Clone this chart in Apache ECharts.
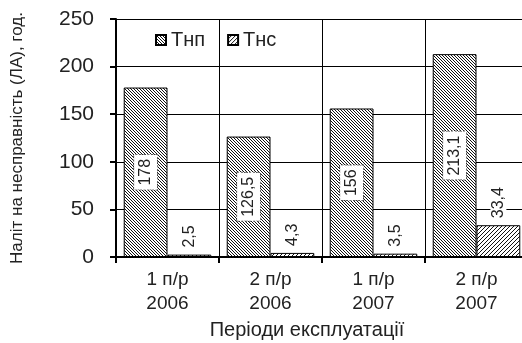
<!DOCTYPE html>
<html>
<head>
<meta charset="utf-8">
<script src="https://cdn.jsdelivr.net/npm/echarts@6/dist/echarts.min.js"></script>
<style>
  html, body { margin: 0; padding: 0; background: #fff; }
  #chart { width: 522px; height: 343px; }
</style>
</head>
<body>
<div id="chart"></div>
<script>
// Periods of operation (half-years) and downtime values, hours
const categories = ['1 п/р\n2006', '2 п/р\n2006', '1 п/р\n2007', '2 п/р\n2007'];
const seriesNames = ['Тнп', 'Тнс'];
const tnpValues = [178, 126.5, 156, 213.1];
const tncValues = [2.5, 4.3, 3.5, 33.4];
const yTicks = [0, 50, 100, 150, 200, 250];

// Diagonal hatch fill drawn on a small tile canvas
function hatch(step, dir, lineW) {
  const s = step * 4;
  const c = document.createElement('canvas');
  c.width = s; c.height = s;
  const g = c.getContext('2d');
  g.fillStyle = '#fff';
  g.fillRect(0, 0, s, s);
  g.strokeStyle = '#111';
  g.lineWidth = lineW;
  g.beginPath();
  for (let k = -s; k <= 2 * s; k += step) {
    if (dir > 0) { g.moveTo(k, 0); g.lineTo(k + s, s); }   // "\" lines
    else { g.moveTo(k, s); g.lineTo(k + s, 0); }           // "/" lines
  }
  g.stroke();
  return { image: c, repeat: 'repeat' };
}

const textFont = '"Liberation Sans", Arial, sans-serif';

function fmt(v) { return String(v).replace('.', ','); }

function barData(values) {
  return values.map(v => {
    if (v >= 50) {
      return {
        value: v,
        label: {
          position: 'inside', rotate: 90,
          align: 'center', verticalAlign: 'middle',
          backgroundColor: '#fff', borderColor: '#555', borderType: 'dotted',
          borderWidth: 1, padding: [4, 4, 3, 4]
        }
      };
    }
    return {
      value: v,
      label: {
        position: 'top', rotate: 90, distance: 5,
        align: 'left', verticalAlign: 'middle',
        backgroundColor: '#fff', padding: [0, 2]
      }
    };
  });
}

const chart = echarts.init(document.getElementById('chart'), null, { renderer: 'canvas' });

const labelStyle = {
  show: true,
  formatter: p => fmt(p.value),
  fontFamily: textFont,
  fontSize: 16,
  color: '#222'
};

chart.setOption({
  animation: false,
  backgroundColor: '#fff',
  textStyle: { fontFamily: textFont, color: '#222' },
  grid: { left: 116, top: 19, width: 412, height: 238, outerBoundsMode: 'none', containLabel: false },
  legend: {
    left: 150, top: 25,
    itemWidth: 10, itemHeight: 10, itemGap: 22,
    textStyle: { fontFamily: textFont, fontSize: 20, color: '#222', padding: [0, 0, 0, 0] },
    data: seriesNames.map(n => ({ name: n, icon: 'rect' }))
  },
  xAxis: {
    type: 'category',
    data: categories,
    boundaryGap: true,
    name: 'Періоди експлуатації',
    nameLocation: 'middle',
    nameGap: 61,
    nameTextStyle: { fontFamily: textFont, fontSize: 20, color: '#222', padding: [0, 30, 0, 0] },
    axisLine: { lineStyle: { color: '#000', width: 2 } },
    axisTick: { show: true, length: 6, alignWithLabel: false, lineStyle: { color: '#000', width: 2 } },
    axisLabel: { fontFamily: textFont, fontSize: 19, color: '#222', lineHeight: 24, margin: 11, interval: 0 },
    splitLine: { show: true, lineStyle: { color: '#000', width: 1 } }
  },
  yAxis: {
    type: 'value',
    min: yTicks[0],
    max: yTicks[yTicks.length - 1],
    interval: yTicks[1] - yTicks[0],
    name: 'Налiт на несправність (ЛА), год.',
    nameLocation: 'middle',
    nameGap: 90,
    nameTextStyle: { fontFamily: textFont, fontSize: 17, color: '#222' },
    axisLine: { show: true, lineStyle: { color: '#000', width: 2 } },
    axisTick: { show: true, length: 6, lineStyle: { color: '#000', width: 2 } },
    axisLabel: { fontFamily: textFont, fontSize: 21, color: '#222', margin: 22 },
    splitLine: { show: true, lineStyle: { color: '#000', width: 1 } }
  },
  series: [
    {
      name: seriesNames[0],
      type: 'bar',
      data: barData(tnpValues),
      barGap: '0%',
      barCategoryGap: '15%',
      itemStyle: { color: hatch(3, 1, 1), borderColor: '#000', borderWidth: 1 },
      label: labelStyle
    },
    {
      name: seriesNames[1],
      type: 'bar',
      data: barData(tncValues),
      barGap: '0%',
      barCategoryGap: '15%',
      itemStyle: { color: hatch(4, -1, 1), borderColor: '#000', borderWidth: 1 },
      label: labelStyle
    }
  ]
});
</script>
</body>
</html>
